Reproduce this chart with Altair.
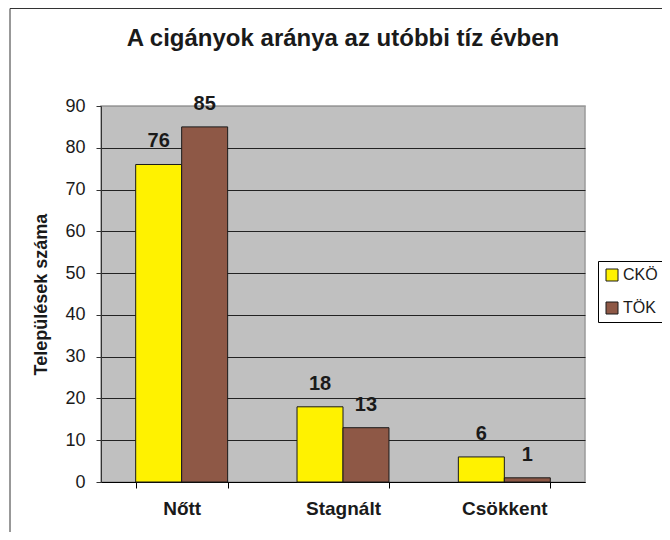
import altair as alt
import pandas as pd

# ---- data ----
categories = ["Nőtt", "Stagnált", "Csökkent"]
series = ["CKÖ", "TÖK"]
cko_values = [76, 18, 6]
tok_values = [85, 13, 1]
y_ticks = [0, 10, 20, 30, 40, 50, 60, 70, 80, 90]
series_colors = ["#FFF200", "#8E5846"]

rows = []
for cat, a, b in zip(categories, cko_values, tok_values):
    rows.append({"kategoria": cat, "sorozat": series[0], "ertek": a})
    rows.append({"kategoria": cat, "sorozat": series[1], "ertek": b})
df = pd.DataFrame(rows)

FONT = "Liberation Sans"
W, H = 484, 376
PAD_L, PAD_T = 93, 98
CANVAS_W, CANVAS_H = 654, 524

base = alt.Chart(df).encode(
    x=alt.X(
        "kategoria:N",
        sort=categories,
        scale=alt.Scale(paddingInner=0.43, paddingOuter=0.215),
        axis=alt.Axis(
            title=None,
            labelAngle=0,
            tickBand="extent",
            tickSize=6,
            tickColor="#000000",
            domainColor="#000000",
            labelFont=FONT,
            labelFontSize=19,
            labelFontWeight="bold",
            labelColor="#1a1a1a",
            labelPadding=11,
            grid=False,
        ),
    ),
    xOffset=alt.XOffset("sorozat:N", sort=series),
    y=alt.Y(
        "ertek:Q",
        scale=alt.Scale(domain=[0, 90], nice=False),
        axis=alt.Axis(
            values=y_ticks,
            title="Települések száma",
            titleFont=FONT,
            titleFontSize=18,
            titleFontWeight="bold",
            titleColor="#1a1a1a",
            titlePadding=14,
            grid=True,
            gridColor=alt.condition("datum.value == 90", alt.value("#9a9a9a"), alt.value("#222222")),
            gridWidth=1,
            tickSize=5,
            tickColor="#333333",
            domainColor="#333333",
            labelFont=FONT,
            labelFontSize=18,
            labelColor="#1a1a1a",
            labelPadding=11,
        ),
    ),
)

bars = base.mark_bar(stroke="#1a1a1a", strokeWidth=1).encode(
    color=alt.Color(
        "sorozat:N",
        sort=series,
        scale=alt.Scale(domain=series, range=series_colors),
        legend=alt.Legend(
            title=None,
            orient="none",
            legendX=497,
            legendY=155,
            strokeColor="#000000",
            fillColor="#ffffff",
            padding=6,
            rowPadding=17,
            labelFont=FONT,
            labelFontSize=16,
            labelColor="#1a1a1a",
            labelOffset=3,
            symbolType="square",
            symbolSize=144,
            symbolStrokeColor="#1a1a1a",
            symbolStrokeWidth=1,
        ),
    )
)

labels = base.mark_text(
    dy=-17,
    baseline="alphabetic",
    font=FONT,
    fontSize=20,
    fontWeight="bold",
    color="#1a1a1a",
).encode(text="ertek:Q")

# outer chart frame (left and top edges visible in the reference)
frame_df = pd.DataFrame({"k": [0]})
frame_left = alt.Chart(frame_df).mark_rule(color="#333333", strokeWidth=1).encode(
    x=alt.value(-91), y=alt.value(-97.5), y2=alt.value(CANVAS_H - PAD_T)
)
frame_top = alt.Chart(frame_df).mark_rule(color="#333333", strokeWidth=1).encode(
    x=alt.value(-91), x2=alt.value(CANVAS_W - PAD_L), y=alt.value(-97.5)
)

chart = (
    alt.layer(bars, labels, frame_left, frame_top)
    .properties(
        width=W,
        height=H,
        autosize=alt.AutoSizeParams(type="none"),
        padding={"left": PAD_L, "top": PAD_T, "right": CANVAS_W - PAD_L - W, "bottom": CANVAS_H - PAD_T - H},
        title=alt.TitleParams(
            text="A cigányok aránya az utóbbi tíz évben",
            font=FONT,
            fontSize=24,
            fontWeight="bold",
            color="#1a1a1a",
            anchor="middle",
            baseline="alphabetic",
            offset=0,
            dy=62,
        ),
        background="#ffffff",
    )
    .configure_view(fill="#C0C0C0", stroke="#9a9a9a", strokeWidth=1.5)
)

chart.save("out.html", embed_options={"renderer": "svg", "actions": False})
